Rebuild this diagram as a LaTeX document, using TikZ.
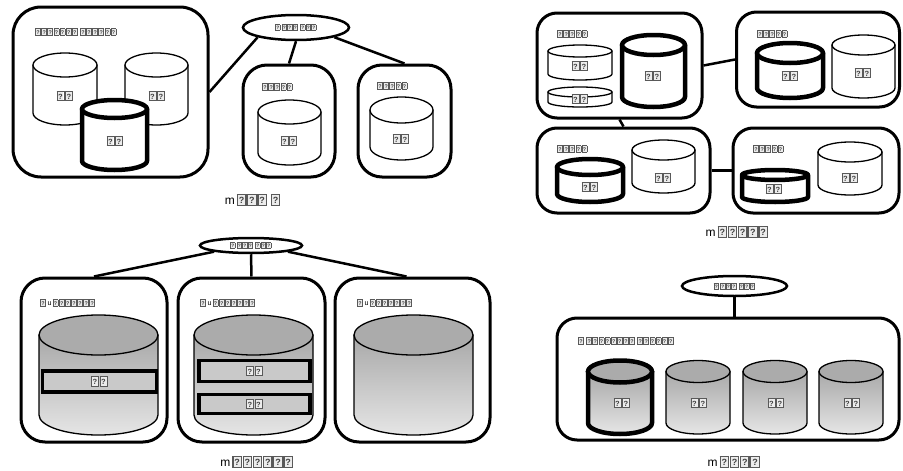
\documentclass[tikz,border=0pt]{standalone}
\usepackage{fontspec}
\setmainfont{Liberation Sans}
\usepackage{graphicx}
\usetikzlibrary{shapes.geometric}

% a glyph box as the picture prints it
\newcommand{\tofu}{{\setlength{\fboxsep}{0.04em}\setlength{\fboxrule}{0.1em}%
  \fcolorbox{black!65}{gray!15}{\makebox[0.52em][c]{\rule{0pt}{0.74em}\raisebox{0.05em}{\scalebox{0.75}{\color{black!75}\textbf{?}}}}}}\kern0.05em}
\newcommand{\tofus}[1]{\foreach\k in {1,...,#1}{\tofu}}

% cylinder: [style family]{cx}{rx}{y top}{y bottom}{ry}
\newcommand{\cyl}[6][cyl]{%
  \draw[#1 body] ({#2-#3},#4) -- ({#2-#3},#5)
    arc[start angle=180,end angle=360,x radius=#3pt,y radius=#6pt] -- ({#2+#3},#4) -- cycle;
  \draw[#1 top] (#2,#4) ellipse[x radius=#3pt,y radius=#6pt];}

\begin{document}
\begin{tikzpicture}[x=1pt, y=-1pt,
    panel/.style={draw, line width=3pt, rounded corners=24pt, inner sep=0pt},
    hub/.style={draw, ellipse, line width=2.5pt, fill=white, inner sep=0pt, font=\fontsize{6.5}{6.5}\selectfont},
    link/.style={line width=2.5pt},
    lbl/.style={anchor=west, inner sep=0pt, font=\fontsize{7.2}{7.2}\selectfont},
    dlbl/.style={inner sep=0pt, font=\fontsize{10}{10}\selectfont},
    captxt/.style={inner sep=0pt, font=\fontsize{12}{12}\selectfont},
    band/.style={draw, line width=3.5pt, fill=gray!42, inner sep=0pt, font=\fontsize{10}{10}\selectfont},
    cyl body/.style={draw, line width=1.3pt, fill=white, line join=round},
    cyl top/.style={cyl body},
    tcyl body/.style={draw, line width=4.5pt, fill=white, line join=round},
    tcyl top/.style={tcyl body},
    gcyl body/.style={draw, line width=1.3pt, top color=gray!68, bottom color=gray!20, line join=round},
    gcyl top/.style={draw, line width=1.3pt, fill=gray!66},
    gtcyl body/.style={gcyl body, line width=4.5pt},
    gtcyl top/.style={gcyl top, line width=4.5pt}]
  \useasboundingbox (0,0) rectangle (903,471);

  % top left: one site, two replicas
  \node[panel, minimum width=195pt, minimum height=170pt, rounded corners=28pt] (boxA) at (110.5,92) {};
  \node[panel, minimum width=92pt, minimum height=112pt] (boxB) at (289,121) {};
  \node[panel, minimum width=93pt, minimum height=112pt] (boxC) at (404.5,121) {};
  \node[lbl] (tA) at (35,32) {\tofus{7}\ \tofus{6}};
  \node[lbl] (tB) at (262,87) {\tofus{5}};
  \node[lbl] (tC) at (377,86) {\tofus{5}};

  \cyl{65}{32}{65}{113}{12}
  \cyl{156.5}{31.5}{65}{113}{12}
  \cyl[tcyl]{114.5}{32.5}{109}{161}{9}
  \cyl{289.5}{31.5}{112}{153}{12}
  \cyl{401.5}{31.5}{110}{147}{13}
  \node[dlbl] (dA1) at (65,96) {\tofus{2}};
  \node[dlbl] (dA2) at (157,96) {\tofus{2}};
  \node[dlbl] (dA3) at (115,141) {\tofus{2}};
  \node[dlbl] (dB) at (289,141) {\tofus{2}};
  \node[dlbl] (dC) at (401,139) {\tofus{2}};

  \node[hub, minimum width=106pt, minimum height=25pt] (hubA) at (296,27.5) {\tofu\,\tofus{3}\ \tofus{3}};
  \draw[link] (hubA.south west) -- (boxA.east);
  \draw[link] (hubA.south) -- (boxB.north);
  \draw[link] (hubA.south east) -- (boxC.north);
  \node[captxt] (capA) at (253,200) {m\,\tofus{3}\ \tofu};

  % top right: four sites in a chain
  \node[panel, minimum width=165pt, minimum height=105pt, rounded corners=20pt] (B1) at (619.5,65.5) {};
  \node[panel, minimum width=163pt, minimum height=95pt, rounded corners=20pt] (B2) at (818,59.5) {};
  \node[panel, minimum width=173pt, minimum height=85pt, rounded corners=20pt] (B3) at (623.5,170.5) {};
  \node[panel, minimum width=166pt, minimum height=85pt, rounded corners=20pt] (B4) at (816,170.5) {};
  \node[lbl] (tB1) at (557,34) {\tofus{5}};
  \node[lbl] (tB2) at (757,34) {\tofus{5}};
  \node[lbl] (tB3) at (557,149) {\tofus{5}};
  \node[lbl] (tB4) at (753,149) {\tofus{5}};

  \cyl{580}{32}{51}{74}{6}
  \cyl{580}{32}{92}{102}{5}
  \cyl[tcyl]{653.5}{31.5}{45}{97}{10}
  \cyl[tcyl]{790}{33}{53}{88}{10}
  \cyl{863.5}{31.5}{45}{88}{10}
  \cyl[tcyl]{590}{33}{167}{194}{8}
  \cyl{663.5}{31.5}{150}{183}{10}
  \cyl[tcyl]{775}{33}{175}{197}{5}
  \cyl{850}{32}{152}{185}{10}
  \node[dlbl] (dB1a) at (580,66) {\tofus{2}};
  \node[dlbl] (dB1b) at (580,99) {\tofus{2}};
  \node[dlbl] (dB1c) at (653,76) {\tofus{2}};
  \node[dlbl] (dB2a) at (790,76) {\tofus{2}};
  \node[dlbl] (dB2b) at (863,73) {\tofus{2}};
  \node[dlbl] (dB3a) at (590,187) {\tofus{2}};
  \node[dlbl] (dB3b) at (663,178) {\tofus{2}};
  \node[dlbl] (dB4a) at (774,189) {\tofus{2}};
  \node[dlbl] (dB4b) at (850,178) {\tofus{2}};

  \draw[link] (B1.east) -- (B2.west);
  \draw[link] (B1.south) -- (B3.north);
  \draw[link] (B3.east) -- (B4.west);
  \node[captxt] (capB) at (737,232) {m\,\tofus{5}};

  % bottom left: shared disks with bands
  \node[panel, minimum width=146pt, minimum height=164pt] (C1) at (94,360) {};
  \node[panel, minimum width=147pt, minimum height=164pt] (C2) at (251.5,360) {};
  \node[panel, minimum width=155pt, minimum height=164pt] (C3) at (412.5,360) {};
  \node[lbl] (tC1) at (40,303) {\tofu\,u\,\tofus{7}};
  \node[lbl] (tC2) at (200,303) {\tofu\,u\,\tofus{7}};
  \node[lbl] (tC3) at (357,303) {\tofu\,u\,\tofus{7}};

  \cyl[gcyl]{98.5}{59.5}{335}{415}{20}
  \cyl[gcyl]{253.5}{59.5}{335}{415}{20}
  \cyl[gcyl]{413.5}{59.5}{335}{415}{20}
  \node[band, minimum width=114pt, minimum height=21pt] (bC1) at (99.5,381.5) {\tofus{2}};
  \node[band, minimum width=111pt, minimum height=21pt] (bC2a) at (254.5,371) {\tofus{2}};
  \node[band, minimum width=111pt, minimum height=19pt] (bC2b) at (254.5,404) {\tofus{2}};

  \node[hub, minimum width=102pt, minimum height=15pt] (hubC) at (251,245.5) {\tofu\,\tofus{3}\ \tofus{3}};
  \draw[link] (hubC.south west) -- (C1.north);
  \draw[link] (hubC.south) -- (C2.north);
  \draw[link] (hubC.south east) -- ([xshift=-6pt]C3.north);
  \node[captxt] (capC) at (257,462) {m\,\tofus{6}};

  % bottom right: one site, four disks
  \node[panel, minimum width=342pt, minimum height=122pt, rounded corners=20pt] (D) at (728,379) {};
  \node[lbl] (tD) at (578,341) {\tofu\ \tofus{8}\ \tofus{6}};

  \cyl[gtcyl]{620}{32}{371.5}{423}{11}
  \cyl[gcyl]{698}{32}{371.5}{423}{11}
  \cyl[gcyl]{775}{32}{371.5}{423}{11}
  \cyl[gcyl]{851}{32}{371.5}{423}{11}
  \node[dlbl] (dD1) at (622,403) {\tofus{2}};
  \node[dlbl] (dD2) at (699,403) {\tofus{2}};
  \node[dlbl] (dD3) at (776,403) {\tofus{2}};
  \node[dlbl] (dD4) at (852,403) {\tofus{2}};

  \node[hub, minimum width=105pt, minimum height=20pt] (hubD) at (734.5,286) {\tofu\,\tofus{3}\ \tofus{3}};
  \draw[link] (hubD.south) -- (hubD.south |- D.north);
  \node[captxt] (capD) at (734,462) {m\,\tofus{4}};
\end{tikzpicture}
\end{document}
